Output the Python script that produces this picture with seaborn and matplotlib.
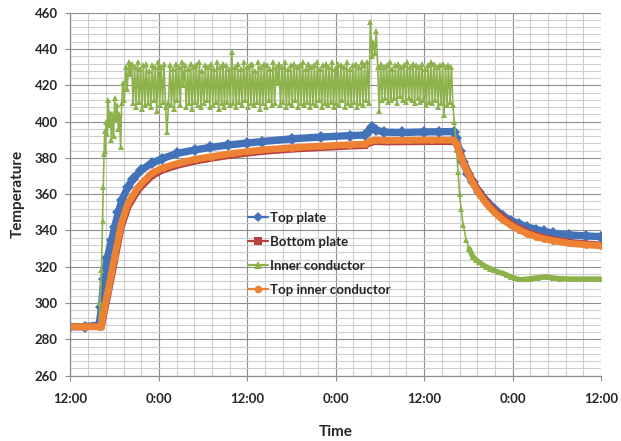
import numpy as np
import pandas as pd
import seaborn as sns
import matplotlib.pyplot as plt
from matplotlib.lines import Line2D
from matplotlib.ticker import MultipleLocator

sns.set_theme(style="white")
plt.rcParams["font.family"] = ["Lato", "DejaVu Sans"]

# ── Data: hours since 12:00 on day 0, temperatures ──
x_ticks = [0, 12, 24, 36, 48, 60, 72]
x_labels = ["12:00", "0:00", "12:00", "0:00", "12:00", "0:00", "12:00"]

top_plate_t = [0, 2, 3.9, 4.2, 4.5, 5.0, 5.6, 6.0, 6.5, 7.0, 7.8, 8.5, 9.6,
               11.0, 12.4, 14.5, 16.9, 19.0, 21.4, 24.0, 26.0, 30.0, 34.0,
               38.0, 40.0, 40.5, 40.9, 41.4, 42.5, 45.0, 48.0, 50.0, 52.0,
               52.3, 52.8, 53.3, 54.0, 54.6, 55.5, 56.4, 57.5, 58.7, 59.8,
               60.9, 62.0, 63.2, 64.3, 65.5, 67.7, 70.0, 72.0]
top_plate = [287, 287, 288, 298, 313, 325, 335, 342, 350, 357, 364, 368.5,
             373.3, 377, 379.5, 382.5, 384.4, 385.8, 387.1, 388.2, 389,
             390.5, 391.5, 392.3, 392.6, 395, 397, 395.5, 394.2, 394, 394.3,
             394.4, 394.5, 391, 384, 377.5, 371, 366.5, 361, 356.5, 352, 348,
             345.5, 343.5, 342, 340.5, 339.5, 338.5, 337.5, 337, 336.6]

plate_t = [0, 2, 4.2, 4.5, 5.1, 6.0, 6.9, 7.8, 9.2, 11.0, 12.5, 14.6, 17.0,
           19.1, 22.0, 25.9, 30, 34, 38, 40.0, 40.6, 41.2, 43, 46, 49, 52.0,
           52.4, 53.3, 54.6, 55.5, 56.4, 57.5, 58.7, 59.8, 60.9, 62.0, 63.2,
           64.3, 65.5, 67.7, 70, 72]
bottom_plate = [287, 287, 287, 293.5, 305, 323.5, 342, 353, 362.5, 370,
                373.3, 376, 378.3, 379.8, 381.6, 383.5, 384.8, 385.7, 386.5,
                386.8, 388.3, 389, 388.8, 388.9, 389, 389, 387.5, 378, 367,
                361, 356, 351, 347, 343.8, 341.2, 339, 337.3, 336, 335, 333.5,
                332.6, 332]
top_inner = [287, 287, 287, 295, 307, 325.6, 344, 355, 364, 371.5, 374.5,
             377, 379.3, 380.7, 382.5, 384.4, 385.6, 386.5, 387.3, 387.6,
             389.3, 389.8, 389.6, 389.7, 389.8, 389.8, 387.5, 377, 366, 360,
             355, 350, 345.8, 342.8, 340.3, 338.3, 336.6, 335.4, 334.4, 332.9,
             332.1, 331.6]

# inner conductor: warm-up, on/off cycling, cool-down
inner_t_rise = [0, 2, 3.85, 4.0, 4.2, 4.35, 4.45, 4.55, 4.65, 4.75, 4.85,
                5.0, 5.1, 5.25, 5.4, 5.55, 5.7, 5.85, 6.0, 6.15, 6.3, 6.5,
                6.65, 6.8, 6.95, 7.1, 7.3, 7.5, 7.7, 7.9, 8.1]
inner_rise = [287, 287, 287, 300, 318, 345, 364, 382, 395, 384, 400, 393,
              412, 398, 405, 390, 404, 392, 413, 401, 409, 396, 404, 386,
              410, 421, 412, 430, 418, 433, 426]
inner_t_cycle = [
    8.3, 8.5, 8.7, 8.9, 9.1, 9.3, 9.5, 9.7, 9.9, 10.1,
    10.3, 10.5, 10.7, 10.9, 11.1, 11.3, 11.5, 11.7, 11.9, 12.1,
    12.3, 12.5, 12.7, 12.9, 13.1, 13.3, 13.5, 13.7, 13.9, 14.1,
    14.3, 14.5, 14.7, 14.9, 15.1, 15.3, 15.5, 15.7, 15.9, 16.1,
    16.3, 16.5, 16.7, 16.9, 17.1, 17.3, 17.5, 17.7, 17.9, 18.1,
    18.3, 18.5, 18.7, 18.9, 19.1, 19.3, 19.5, 19.7, 19.9, 20.1,
    20.3, 20.5, 20.7, 20.9, 21.1, 21.3, 21.5, 21.7, 21.9, 22.1,
    22.3, 22.5, 22.7, 22.9, 23.1, 23.3, 23.5, 23.7, 23.9, 24.1,
    24.3, 24.5, 24.7, 24.9, 25.1, 25.3, 25.5, 25.7, 25.9, 26.1,
    26.3, 26.5, 26.7, 26.9, 27.1, 27.3, 27.5, 27.7, 27.9, 28.1,
    28.3, 28.5, 28.7, 28.9, 29.1, 29.3, 29.5, 29.7, 29.9, 30.1,
    30.3, 30.5, 30.7, 30.9, 31.1, 31.3, 31.5, 31.7, 31.9, 32.1,
    32.3, 32.5, 32.7, 32.9, 33.1, 33.3, 33.5, 33.7, 33.9, 34.1,
    34.3, 34.5, 34.7, 34.9, 35.1, 35.3, 35.5, 35.7, 35.9, 36.1,
    36.3, 36.5, 36.7, 36.9, 37.1, 37.3, 37.5, 37.7, 37.9, 38.1,
    38.3, 38.5, 38.7, 38.9, 39.1, 39.3, 39.5, 39.7, 39.9, 40.1,
    40.3, 40.5, 40.7, 40.9, 41.1, 41.3, 41.5, 41.7, 41.9, 42.1,
    42.3, 42.5, 42.7, 42.9, 43.1, 43.3, 43.5, 43.7, 43.9, 44.1,
    44.3, 44.5, 44.7, 44.9, 45.1, 45.3, 45.5, 45.7, 45.9, 46.1,
    46.3, 46.5, 46.7, 46.9, 47.1, 47.3, 47.5, 47.7, 47.9, 48.1,
    48.3, 48.5, 48.7, 48.9, 49.1, 49.3, 49.5, 49.7, 49.9, 50.1,
    50.3, 50.5, 50.7, 50.9, 51.1, 51.3, 51.5, 51.7, 51.9]
inner_cycle = [
    432, 410, 430, 408, 433, 411, 429, 407, 431, 409,
    432, 410, 428, 408, 431, 412, 430, 406, 433, 409,
    430, 411, 432, 408, 394, 410, 431, 409, 429, 407,
    432, 412, 430, 409, 433, 420, 431, 408, 429, 410,
    432, 407, 430, 411, 431, 409, 433, 408, 428, 410,
    431, 412, 430, 408, 432, 409, 429, 411, 433, 407,
    430, 410, 432, 408, 431, 411, 429, 409, 438.5, 410,
    430, 408, 432, 411, 429, 409, 433, 412, 430, 408,
    431, 410, 432, 409, 428, 411, 433, 407, 430, 410,
    432, 408, 431, 412, 429, 409, 433, 410, 430, 421,
    432, 409, 430, 411, 433, 408, 429, 410, 431, 409,
    432, 412, 430, 408, 431, 410, 433, 409, 429, 411,
    432, 408, 430, 410, 431, 409, 433, 412, 429, 408,
    431, 410, 432, 409, 430, 411, 433, 408, 429, 410,
    432, 409, 431, 412, 430, 408, 433, 410, 429, 409,
    431, 411, 432, 408, 430, 410, 433, 409, 431, 412,
    433, 410, 455, 436, 444, 438, 450, 430, 406, 432,
    412, 430, 413, 431, 411, 433, 412, 429, 413, 431,
    410, 432, 414, 430, 412, 431, 411, 433, 413, 430,
    412, 432, 410, 431, 413, 430, 411, 432, 412, 429,
    409, 431, 411, 433, 410, 432, 412, 430, 408, 431,
    410, 432, 403.5, 430, 409, 431, 411, 430, 409]
inner_t_fall = [52.1, 52.4, 52.6, 52.8, 53.0, 53.3, 53.7, 54.1, 54.6, 55.0,
                55.5, 56.0, 56.4, 57.0, 57.5, 58.1, 58.7, 59.2, 59.8, 60.3,
                60.9, 61.5, 62.0, 62.5, 63.0, 63.5, 64.0, 64.6, 65.5, 66.5,
                67.7, 68.8, 70.0, 71.0, 72.0]
inner_fall = [400, 384.4, 372, 360, 352, 343, 335, 330, 325.6, 324,
              322.5, 321, 320, 319, 318, 317, 316.4, 315.4, 314.5, 313.7,
              313, 313, 313.2, 313.5, 313.8, 314, 314.3, 314.5, 313.8, 313.5,
              313.3, 313.3, 313.3, 313.3, 313.3]

series_names = ["Top plate", "Bottom plate", "Inner conductor",
                "Top inner conductor"]
colors = ["#4472B8", "#B7423E", "#8DB24C", "#EE8234"]
markers = ["D", "s", "^", "o"]

df_top = pd.DataFrame({"t": top_plate_t, "temp": top_plate})
df_bot = pd.DataFrame({"t": plate_t, "temp": bottom_plate})
df_tin = pd.DataFrame({"t": plate_t, "temp": top_inner})
df_inn = pd.DataFrame({
    "t": inner_t_rise + inner_t_cycle + inner_t_fall,
    "temp": inner_rise + inner_cycle + inner_fall,
})
# slow tail of the cool-down, where the dense markers merge into a band
df_tail = pd.DataFrame({"t": inner_t_fall[7:], "temp": inner_fall[7:]})

fig = plt.figure(figsize=(6.21, 4.41), dpi=100)
ax = fig.add_axes([0.1135, 0.1481, 0.8543, 0.8231])

common = dict(ax=ax, x="t", y="temp", estimator=None, sort=False,
              legend=False, markeredgewidth=0)
sns.lineplot(data=df_top, color=colors[0], lw=5.3, marker="D",
             markersize=6, **common)
sns.lineplot(data=df_bot, color=colors[1], lw=5.0, marker="s",
             markersize=4.5, **common)
sns.lineplot(data=df_inn, color=colors[2], lw=1.2, marker="^",
             markersize=5, **common)
sns.lineplot(data=df_tail, color=colors[2], lw=3.8, **common)
sns.lineplot(data=df_tin, color=colors[3], lw=4.9, marker="o",
             markersize=5, **common)

# axes, ticks and Excel-like grid
ax.set_xlim(0, 72)
ax.set_ylim(260, 460)
ax.set_xticks(x_ticks)
ax.set_xticklabels(x_labels)
ax.set_yticks(range(260, 461, 20))
ax.xaxis.set_minor_locator(MultipleLocator(2.4))
ax.yaxis.set_minor_locator(MultipleLocator(4))
ax.grid(which="major", color="#8e8e8e", lw=0.8)
ax.grid(which="minor", color="#cfcfcf", lw=0.8)
ax.set_axisbelow(True)
for side in ["top", "right"]:
    ax.spines[side].set_visible(False)
for side in ["left", "bottom"]:
    ax.spines[side].set_color("#8e8e8e")
    ax.spines[side].set_linewidth(0.9)
ax.tick_params(which="major", direction="out", length=3.6, width=0.8,
               color="#8e8e8e", labelsize=9.5)
ax.tick_params(axis="y", which="major", left=True, pad=5.5)
ax.tick_params(axis="x", which="major", bottom=True, pad=9)
ax.tick_params(which="minor", length=0)
for lab in ax.get_xticklabels() + ax.get_yticklabels():
    lab.set_fontweight("bold")

ax.set_xlabel("Time", fontsize=11, fontweight="bold")
ax.set_ylabel("Temperature", fontsize=11, fontweight="bold")
ax.xaxis.set_label_coords(0.5, -0.135)
ax.yaxis.set_label_coords(-0.087, 0.5)

handles = [Line2D([0], [0], color=c, lw=1.6, marker=m, markersize=5.5,
                  markeredgewidth=0)
           for c, m in zip(colors, markers)]
ax.legend(handles, series_names, loc="upper left",
          bbox_to_anchor=(0.313, 0.485), frameon=False, handlelength=1.45,
          handletextpad=0.15, labelspacing=0.92,
          prop={"weight": "bold", "size": 9.5})

plt.savefig("out.png", dpi=100)
plt.close()
